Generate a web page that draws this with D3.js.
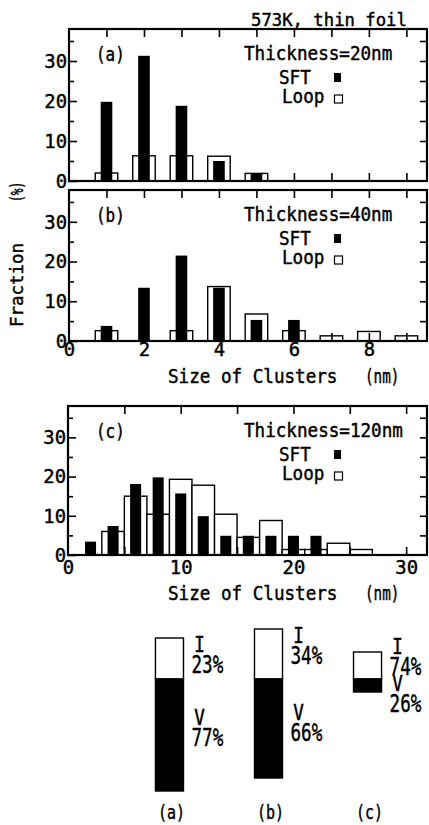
<!DOCTYPE html>
<html>
<head>
<meta charset="utf-8">
<script src="https://cdn.jsdelivr.net/npm/d3@7"></script>
<style>
  body { margin: 0; background: #fff; }
  text { font-family: "DejaVu Sans Mono", monospace; fill: #000; stroke: #000; stroke-width: 0.45px; }
</style>
</head>
<body>
<div id="chart"></div>
<script>
// Cluster size distributions (fraction in %)
var sizesAB = [1, 2, 3, 4, 5, 6, 7, 8, 9];
var sftA  = [19.8, 31.3, 18.8, 5.0, 1.9, 0, 0, 0, 0];
var loopA = [2.0, 6.3, 6.3, 6.2, 1.9, 0, 0, 0, 0];
var sftB  = [3.8, 13.4, 21.5, 13.4, 5.3, 5.3, 0, 0, 0];
var loopB = [2.6, 0, 2.6, 13.7, 6.8, 2.6, 1.3, 2.4, 1.3];

var sizesC = [2, 4, 6, 8, 10, 12, 14, 16, 18, 20, 22, 24, 26];
var sftC  = [3.4, 7.4, 18.1, 19.8, 15.7, 9.9, 4.9, 4.9, 4.9, 4.9, 4.9, 0, 0];
var loopC = [0, 6.0, 15.0, 10.4, 19.3, 17.8, 10.4, 4.5, 8.8, 1.4, 1.4, 3.0, 1.4];

// Interstitial / vacancy type fractions, bar lengths in arbitrary units
var typeCats = ["(a)", "(b)", "(c)"];
var iAmount = [4.1, 5.0, 2.7];
var vAmount = [11.2, 9.9, 1.3];
var iPct = [23, 34, 74];
var vPct = [77, 66, 26];

var width = 429, height = 825;
var ADV = 0.602;   // advance of DejaVu Sans Mono, in em

var svg = d3.select("#chart").append("svg")
    .attr("width", width)
    .attr("height", height);

// monospace text squeezed sideways to a given character pitch (narrow typewriter look)
function mono(g, str, x, y, size, pitch, anchor) {
    var sx = pitch / (ADV * size);
    return g.append("text")
        .attr("transform", `translate(${x},${y}) scale(${sx.toFixed(3)},1)`)
        .attr("font-size", size)
        .attr("text-anchor", anchor || "start")
        .text(str);
}

function squeeze(sel, size, pitch) {
    sel.selectAll(".tick text")
        .attr("font-size", size)
        .attr("font-family", "DejaVu Sans Mono")
        .attr("fill", "#000")
        .attr("transform", `scale(${(pitch / (ADV * size)).toFixed(3)},1)`);
}

function panel(p) {
    var x = d3.scaleLinear([0, p.xMax], [p.left, p.right]);
    var y = d3.scaleLinear([0, 38], [p.zero, p.top]);
    var g = svg.append("g");

    // bars: loops (open) behind, SFT (filled) on top
    var loops = p.sizes.map((s, i) => ({ s: s, v: p.loop[i] })).filter(d => d.v > 0);
    var sfts = p.sizes.map((s, i) => ({ s: s, v: p.sft[i] })).filter(d => d.v > 0);

    g.append("g").selectAll("rect")
        .data(loops)
        .join("rect")
        .attr("x", d => x(d.s - p.loopW / 2))
        .attr("width", d => x(d.s + p.loopW / 2) - x(d.s - p.loopW / 2))
        .attr("y", d => y(d.v))
        .attr("height", d => y(0) - y(d.v))
        .attr("fill", "#fff")
        .attr("stroke", "#000")
        .attr("stroke-width", 1.4);

    g.append("g").selectAll("rect")
        .data(sfts)
        .join("rect")
        .attr("x", d => x(d.s - p.sftW / 2))
        .attr("width", d => x(d.s + p.sftW / 2) - x(d.s - p.sftW / 2))
        .attr("y", d => y(d.v))
        .attr("height", d => y(0) - y(d.v))
        .attr("fill", "#000");

    // ticks, all pointing inwards
    var minorY = [5, 15, 25, 35], majorY = [0, 10, 20, 30];
    g.append("g").attr("transform", `translate(${p.left},0)`)
        .call(d3.axisLeft(y).tickValues(majorY).tickSize(-8).tickPadding(2))
        .call(a => a.select(".domain").remove())
        .call(a => squeeze(a, 20, 11.4))
        .call(a => a.selectAll("line").attr("stroke-width", 1.6));
    g.append("g").attr("transform", `translate(${p.left},0)`)
        .call(d3.axisLeft(y).tickValues(minorY).tickSize(-5).tickFormat(""))
        .call(a => a.select(".domain").remove())
        .call(a => a.selectAll("line").attr("stroke-width", 1.6));
    g.append("g").attr("transform", `translate(${p.right},0)`)
        .call(d3.axisRight(y).tickValues(majorY.concat(minorY).filter(v => v > 0)).tickSize(-7).tickFormat(""))
        .call(a => a.select(".domain").remove())
        .call(a => a.selectAll("line").attr("stroke-width", 1.6));
    g.append("g").attr("transform", `translate(0,${p.top})`)
        .call(d3.axisTop(x).tickValues(p.xTicks).tickSize(-8).tickFormat(""))
        .call(a => a.select(".domain").remove())
        .call(a => a.selectAll("line").attr("stroke-width", 1.6));
    g.append("g").attr("transform", `translate(0,${p.zero})`)
        .call(d3.axisBottom(x).tickValues(p.xTicks).tickSize(-8).tickFormat(""))
        .call(a => a.select(".domain").remove())
        .call(a => a.selectAll("line").attr("stroke-width", 1.6));

    if (p.xLabels) {
        g.append("g").attr("transform", `translate(0,${p.zero})`)
            .call(d3.axisBottom(x).tickValues(p.xLabels).tickSize(0))
            .call(a => a.select(".domain").remove())
            .call(a => squeeze(a, 20, 11.4))
            .call(a => a.selectAll(".tick text").attr("y", p.labelDy).attr("dy", null));
        mono(g, "Size of Clusters", 168, p.titleY, 19, 10.6);
        mono(g, "(nm)", 365, p.titleY, 19, 8.6);
    }

    // frame
    g.append("rect")
        .attr("x", p.left)
        .attr("y", p.top)
        .attr("width", p.right - p.left)
        .attr("height", p.zero - p.top)
        .attr("fill", "none")
        .attr("stroke", "#000")
        .attr("stroke-width", 2.2);

    // panel tag and legend
    mono(g, p.tag, 96, p.top + 31.5, 19, 9.6);
    mono(g, p.legend, 244, p.top + 31, 19, 10.6);
    mono(g, "SFT", 279, p.top + 55, 19, 10.6);
    mono(g, "Loop", 282, p.top + 74, 19, 10.6);
    g.append("rect")
        .attr("x", 334).attr("y", p.top + 44)
        .attr("width", 7).attr("height", 9)
        .attr("fill", "#000");
    g.append("rect")
        .attr("x", 334.5).attr("y", p.top + 66)
        .attr("width", 8).attr("height", 8)
        .attr("fill", "#fff")
        .attr("stroke", "#000")
        .attr("stroke-width", 1.2);
}

panel({ tag: "(a)", legend: "Thickness=20nm", sizes: sizesAB, sft: sftA, loop: loopA,
        top: 29, zero: 181, left: 69, right: 427, xMax: 9.55,
        xTicks: d3.range(1, 10), loopW: 0.6, sftW: 0.31 });
panel({ tag: "(b)", legend: "Thickness=40nm", sizes: sizesAB, sft: sftB, loop: loopB,
        top: 190, zero: 341, left: 69, right: 427, xMax: 9.55,
        xTicks: d3.range(1, 10), loopW: 0.6, sftW: 0.31,
        xLabels: [0, 2, 4, 6, 8], labelDy: 15, titleY: 383 });
panel({ tag: "(c)", legend: "Thickness=120nm", sizes: sizesC, sft: sftC, loop: loopC,
        top: 406, zero: 555, left: 68, right: 427, xMax: 31.85,
        xTicks: [5, 10, 15, 20, 25, 30], loopW: 2, sftW: 0.98,
        xLabels: [0, 10, 20, 30], labelDy: 19, titleY: 600 });

// title and shared y label
mono(svg, "573K, thin foil", 251, 26, 18, 10.4);
svg.append("g").attr("transform", "translate(23,327) rotate(-90)")
    .call(g => mono(g, "Fraction", 0, 0, 18, 10.5));
svg.append("g").attr("transform", "translate(23,202) rotate(-90)")
    .call(g => mono(g, "(%)", 0, 0, 17, 6.8));

// interstitial (up) / vacancy (down) bars from a common level
var bx = d3.scaleBand(typeCats, [120, 417]).paddingInner(0.717).paddingOuter(0.358);
var by = d3.scaleLinear([0, 1], [0, 10]);
var base = 679;
var tb = svg.append("g");

tb.selectAll("rect.i")
    .data(typeCats)
    .join("rect")
    .attr("class", "i")
    .attr("x", d => bx(d))
    .attr("width", bx.bandwidth())
    .attr("y", (d, i) => base - by(iAmount[i]))
    .attr("height", (d, i) => by(iAmount[i]))
    .attr("fill", "#fff")
    .attr("stroke", "#000")
    .attr("stroke-width", 1.4);

tb.selectAll("rect.v")
    .data(typeCats)
    .join("rect")
    .attr("class", "v")
    .attr("x", d => bx(d))
    .attr("width", bx.bandwidth())
    .attr("y", base)
    .attr("height", (d, i) => by(vAmount[i]))
    .attr("fill", "#000")
    .attr("stroke", "#000")
    .attr("stroke-width", 1.4);

typeCats.forEach(function (c, i) {
    var right = bx(c) + bx.bandwidth();
    var iy = Math.min(base - by(iAmount[i]) + 14, base - 25);
    var vy = base + Math.max(12, by(vAmount[i]) * 0.41);
    mono(tb, "I", right + 16, iy, 21, 10.6, "middle");
    mono(tb, iPct[i] + "%", right + 8, iy + 21, 25, 10.6);
    mono(tb, "V", right + 16, vy, 21, 10.6, "middle");
    mono(tb, vPct[i] + "%", right + 8, vy + 21, 25, 10.6);
    mono(tb, c, bx(c) + bx.bandwidth() / 2 + 2, 819, 20, 9, "middle");
});
</script>
</body>
</html>
